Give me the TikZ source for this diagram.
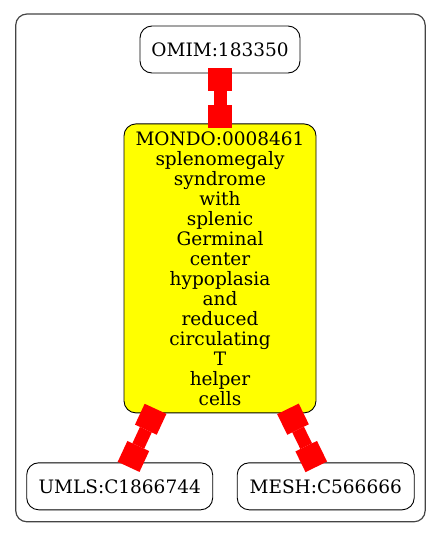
\documentclass[tikz,border=0pt]{standalone}
\usepackage{fontspec}
\setmainfont{DejaVu Serif}
\usepackage{xcolor}
\usetikzlibrary{arrows.meta,positioning,fit,backgrounds}
\definecolor{teered}{RGB}{255,0,0}
\definecolor{mondofill}{RGB}{255,255,0}
\definecolor{clustergray}{RGB}{68,68,68}
\tikzset{
  termbox/.style={rectangle, rounded corners=12pt, draw=black, fill=white,
    font=\fontsize{18.5}{20}\selectfont, align=center, minimum height=47pt,
    inner sep=2pt, line width=0.9pt},
  teelink/.style={{Rectangle[length=23pt,width=24pt,line width=0pt]}-{Rectangle[length=23pt,width=24pt,line width=0pt]},
    teered, line width=13pt, shorten <=-5pt, shorten >=-5pt},
  clusterbox/.style={rectangle, rounded corners=11pt, draw=clustergray, line width=1.2pt}
}
\begin{document}
\begin{tikzpicture}[x=1pt,y=1pt]
  \useasboundingbox (0,0) rectangle (440,-536);
  \node[termbox,minimum width=160pt] (omim) at (220,-49.5) {OMIM:183350};
  \node[termbox,fill=mondofill,minimum width=192pt,minimum height=289pt,below=50pt of omim] (mondo)
    {MONDO:0008461\\splenomegaly\\syndrome\\with\\splenic\\Germinal\\center\\hypoplasia\\and\\reduced\\circulating\\T\\helper\\cells};
  \node[termbox,minimum width=186pt,below=49pt of mondo,xshift=-100.3pt] (umls) {UMLS:C1866744};
  \node[termbox,minimum width=177pt,below=49pt of mondo,xshift=105.7pt] (mesh) {MESH:C566666};
  \begin{scope}[on background layer]
    \node[clusterbox,fit=(omim)(umls)(mesh),inner xsep=10.5pt,inner ysep=11.5pt] (cluster) {};
  \end{scope}
  \draw[teelink](omim)--(mondo);
  \draw[teelink](mondo)--(umls);\draw[teelink](mondo)--(mesh);
\end{tikzpicture}
\end{document}
